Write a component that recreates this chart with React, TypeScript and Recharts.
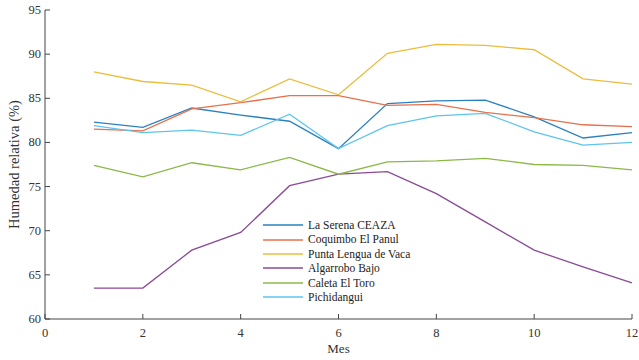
import React from 'react';
import { LineChart, Line, XAxis, YAxis, Legend } from 'recharts';

const months = [1, 2, 3, 4, 5, 6, 7, 8, 9, 10, 11, 12];
const laSerena = [82.3, 81.7, 83.9, 83.1, 82.4, 79.3, 84.4, 84.7, 84.8, 82.9, 80.5, 81.1];
const coquimbo = [81.5, 81.3, 83.8, 84.5, 85.3, 85.3, 84.2, 84.3, 83.4, 82.8, 82.0, 81.8];
const puntaLengua = [88.0, 86.9, 86.5, 84.6, 87.2, 85.4, 90.1, 91.1, 91.0, 90.5, 87.2, 86.6];
const algarrobo = [63.5, 63.5, 67.8, 69.8, 75.1, 76.4, 76.7, 74.2, 71.0, 67.8, 65.9, 64.1];
const caleta = [77.4, 76.1, 77.7, 76.9, 78.3, 76.4, 77.8, 77.9, 78.2, 77.5, 77.4, 76.9];
const pichidangui = [81.9, 81.1, 81.4, 80.8, 83.2, 79.3, 81.9, 83.0, 83.3, 81.2, 79.7, 80.0];

const xTicks = [0, 2, 4, 6, 8, 10, 12];
const yTicks = [60, 65, 70, 75, 80, 85, 90, 95];

const seriesNames = [
  'La Serena CEAZA',
  'Coquimbo El Panul',
  'Punta Lengua de Vaca',
  'Algarrobo Bajo',
  'Caleta El Toro',
  'Pichidangui',
];
const seriesValues = [laSerena, coquimbo, puntaLengua, algarrobo, caleta, pichidangui];
const seriesColors = ['#2a80c0', '#e8704a', '#ecbc3c', '#8a4a98', '#8cb848', '#5ec4ee'];

const data = months.map((m, i) => {
  const row: any = { mes: m };
  seriesNames.forEach((n, k) => {
    row[n] = seriesValues[k][i];
  });
  return row;
});

const FONT = '"Liberation Serif", "Times New Roman", serif';
const AXIS = '#444';
const TXT = '#333';
const tickStyle = { fontFamily: FONT, fontSize: 12.5, fill: TXT };

const BottomTick = (p: any) => (
  <g>
    <line x1={p.x} x2={p.x} y1={p.y} y2={p.y - 5} stroke={AXIS} />
    <text x={p.x} y={p.y + 18} textAnchor="middle" style={tickStyle}>
      {p.payload.value}
    </text>
  </g>
);
const TopTick = (p: any) => (
  <line x1={p.x} x2={p.x} y1={p.y} y2={p.y + 5} stroke={AXIS} />
);
const LeftTick = (p: any) => (
  <g>
    <line x1={p.x} x2={p.x + 5} y1={p.y} y2={p.y} stroke={AXIS} />
    <text x={p.x - 4} y={p.y + 4} textAnchor="end" style={tickStyle}>
      {p.payload.value}
    </text>
  </g>
);
const RightTick = (p: any) => (
  <line x1={p.x} x2={p.x - 5} y1={p.y} y2={p.y} stroke={AXIS} />
);

const renderLegend = () => (
  <div style={{ fontFamily: FONT, fontSize: 11.5, color: '#222', lineHeight: '14.4px' }}>
    {seriesNames.map((n, k) => (
      <div key={n} style={{ display: 'flex', alignItems: 'center', height: 14.4 }}>
        <svg width={40} height={6} style={{ marginRight: 5, display: 'block' }}>
          <line x1={0} x2={40} y1={3} y2={3} stroke={seriesColors[k]} strokeWidth={1.3} />
        </svg>
        <span>{n}</span>
      </div>
    ))}
  </div>
);

export default function App() {
  return (
    <div style={{ position: 'absolute', left: 0, top: 0, background: '#fff' }}>
      <LineChart width={639} height={360} data={data} margin={{ top: 10, right: 7, bottom: 0, left: 0 }}>
        <XAxis
          dataKey="mes"
          type="number"
          domain={[0, 12]}
          ticks={xTicks}
          interval={0}
          height={41}
          tickSize={0}
          tickMargin={0}
          tickLine={false}
          tick={BottomTick}
          axisLine={{ stroke: AXIS }}
          label={{ value: 'Mes', position: 'insideBottom', offset: 7, style: { fontFamily: FONT, fontSize: 13, fill: TXT } }}
        />
        <XAxis
          xAxisId="top"
          orientation="top"
          dataKey="mes"
          type="number"
          domain={[0, 12]}
          ticks={xTicks}
          interval={0}
          height={0}
          tickSize={0}
          tickMargin={0}
          tickLine={false}
          tick={TopTick}
          axisLine={{ stroke: AXIS }}
        />
        <YAxis
          type="number"
          domain={[60, 95]}
          ticks={yTicks}
          interval={0}
          width={45}
          tickSize={0}
          tickMargin={0}
          tickLine={false}
          tick={LeftTick}
          axisLine={{ stroke: AXIS }}
          label={{
            value: 'Humedad relativa (%)',
            angle: -90,
            position: 'insideLeft',
            offset: 14,
            style: { fontFamily: FONT, fontSize: 14.5, fill: TXT, textAnchor: 'middle' },
          }}
        />
        <YAxis
          yAxisId="right"
          orientation="right"
          type="number"
          domain={[60, 95]}
          ticks={yTicks}
          interval={0}
          width={0}
          tickSize={0}
          tickMargin={0}
          tickLine={false}
          tick={RightTick}
          axisLine={{ stroke: AXIS }}
        />
        {seriesNames.map((n, k) => (
          <Line
            key={n}
            type="linear"
            dataKey={n}
            name={n}
            stroke={seriesColors[k]}
            strokeWidth={1.3}
            dot={false}
            activeDot={false}
            isAnimationActive={false}
          />
        ))}
        <Legend
          layout="vertical"
          align="center"
          verticalAlign="middle"
          content={renderLegend}
          wrapperStyle={{ position: 'absolute', left: 263, top: 218, width: 220 }}
        />
      </LineChart>
    </div>
  );
}
